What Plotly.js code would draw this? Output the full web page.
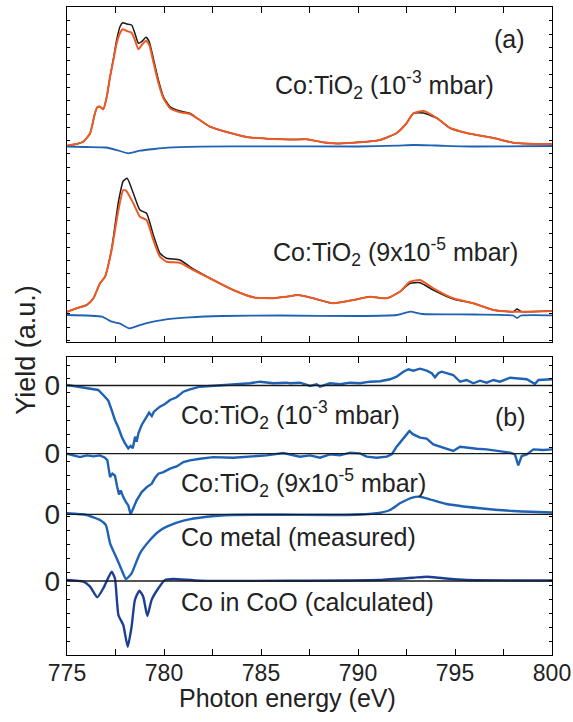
<!DOCTYPE html>
<html><head><meta charset="utf-8">
<script src="https://cdn.plot.ly/plotly-3.0.1.min.js"></script>
<style>html,body{margin:0;padding:0;background:#fff;}</style>
</head><body><div id="chart" style="width:573px;height:722px;"></div>
<script>
// ---------- Panel (a): XAS spectra (arbitrary units) ----------
const eA1 = [775,775.5,775.84,776.19,776.44,776.56,776.7,776.87,777.05,777.22,777.39,777.56,777.73,777.87,778.08,778.33,778.5,778.68,778.85,779.07,779.24,779.45,779.71,779.97,780.31,780.82,781.34,781.69,782.37,783.23,784.26,785.63,786.5,787.36,788.04,788.7,789.74,791.13,791.99,792.51,792.85,793.37,794.06,794.74,795.6,796.98,798.0,799.38,800];
const orangeA1 = [196.3,198,200.3,208.7,228.7,234.7,235.3,232.7,245.3,265.3,282,298.7,308.7,312.7,311,309.3,302,292.7,297,301.3,297,280.3,259.3,243.7,233.7,229.7,228,224,215.3,210,205,203,202.5,202.7,200.3,198.7,199.3,202,209,219,228.7,231,224,214,209,204,199.3,198,198];
const blackA1  = [196.3,198,200.3,208.7,228.7,234.7,235.3,232.7,245.3,265.3,283,302,315.3,319.3,318,317,308.7,298.7,300.3,304.7,300.3,283.7,262,245.3,235.3,231,228.7,224,215.3,210,205,203,202.5,202.7,200.3,198.7,199.3,202,209,219,228.7,229,224,214,209,204,199.3,198,198];
const eBlueA1 = [775,776,777,777.56,778.16,778.76,779.5,780.2,781.9,785,790,792,792.85,794,796,800];
const blueA1  = [195.3,195,194.5,192,188.7,191.3,193,194.3,195.3,195.7,195.5,196.3,197,196.5,195.5,196];

const eOrangeA2 = [775,775.5,776.01,776.36,776.7,776.96,777.3,777.65,777.9,778.05,778.42,778.76,779.1,779.45,779.79,780.14,780.82,781.51,782.54,783.57,784.6,785.63,786.32,786.92,787.7,788.73,789.76,790.62,791.48,792.16,792.68,793.2,793.88,794.91,795.94,796.98,798.0,800];
const orangeA2 = [30.3,33.7,37,43.7,58.7,65.3,92,132,152,151.3,138.7,125.3,122,102,85.3,80.3,79.3,72,62,52,44.7,43.7,45.3,47,43.7,38.7,42,45.3,43.7,50.3,60.3,62,53.7,43.7,38.7,32,30.3,31];
const eBlackA2 = [775,775.5,776.01,776.36,776.7,776.96,777.3,777.65,777.9,778.1,778.42,778.76,779.1,779.45,779.79,780.14,780.82,781.51,782.54,783.57,784.6,785.63,786.32,786.92,787.7,788.73,789.76,790.62,791.48,792.16,792.68,793.2,793.88,794.91,795.94,796.98,798.0,798.2,798.4,800];
const blackA2 = [30.3,33.7,37,43.7,58.7,65.3,93,140,161,163.7,148.7,132,128.7,107,88.7,83.7,82,73,62,52,44.7,43.7,45.3,47,43.7,38.7,42,45.3,43.7,50.3,58.7,59.3,52,43,38.7,32,30.3,33,30.5,31];
const eBlueA2 = [775,776.8,777.3,777.7,778.2,778.76,779.45,780.1,781.3,783,786,790,792,792.7,793.3,796,798,798.2,798.4,800];
const blueA2  = [27,25.3,20.3,18.7,13.7,17,20.3,22.7,24.7,26,26.5,26,27,30.3,28,27.5,26.5,24,26.5,26.7];

// ---------- Panel (b): XMCD (offset curves, value relative to own zero) ----------
const offsetsB = [269.5, 201.3, 140.7, 74];
const zeroTickText = ['0','0','0','0'];

const eB1 = [775,775.5,776.02,776.36,776.61,776.87,777.13,777.3,777.47,777.64,777.82,777.99,778.16,778.28,778.39,778.51,778.59,778.68,778.85,779.11,779.23,779.37,779.48,779.79,780.05,780.31,780.65,781.0,781.34,781.86,782.72,783.57,784.43,784.95,785.63,786.32,786.49,787.01,787.53,787.87,788.04,788.56,789.07,789.59,790.1,790.62,791.13,791.65,791.99,792.34,792.6,792.85,793.2,793.54,793.8,793.97,794.14,794.31,794.57,794.91,795.17,795.26,795.6,795.94,796.29,796.63,796.98,797.32,797.84,798.18,798.7,799.12,799.3,800];
const b1 = [0.5,-1.2,-2.8,-3.8,-4.5,-9.5,-15.2,-24.5,-34.5,-41.8,-51.2,-57.8,-62.8,-60.5,-62.8,-51.2,-56.2,-47.8,-39.5,-31.2,-27.2,-30.5,-26.2,-21.2,-18.5,-14.5,-11.8,-6.2,-3.8,-1.2,-0.2,1.2,2.2,3.8,2.2,2.8,2.2,2.8,-0.5,1.2,-1.2,2.2,1.2,2.8,2.2,3.8,4.2,6.2,8.8,13.8,16.2,14.8,16.8,14.8,12.2,8.2,12.2,13.8,12.2,10.5,5.5,3.8,5.5,2.2,4.8,2.8,5.5,3.8,7.8,7.2,6.2,1.5,5.5,6.2];

const eB2 = [775,775.32,775.67,776.02,776.36,776.7,776.96,777.08,777.22,777.34,777.47,777.59,777.68,777.77,777.9,778.04,778.16,778.28,778.42,778.59,778.85,779.11,779.37,779.54,779.71,779.97,780.31,780.65,781.0,781.34,781.86,782.54,783.57,784.43,785.29,786.15,786.49,787.01,787.53,788.04,788.56,789.07,789.59,790.1,790.45,790.96,791.48,791.74,791.99,792.25,792.51,792.65,792.85,793.2,793.54,793.88,794.23,794.57,794.91,795.26,795.6,796.12,796.63,797.15,797.84,798.09,798.26,798.44,798.7,799.04,799.55,800];
const b2 = [0,-1.7,-3.4,-1.7,-2.7,-1.7,-4,-6.7,-23.4,-20,-21.7,-33.4,-40.7,-36.7,-43.4,-48.4,-51.7,-60.7,-55,-46.7,-38.4,-33.4,-30,-24,-20,-18.4,-15,-12.7,-8.4,-6.7,-5,-3.4,-4,-2.7,-1.7,0.6,-0.7,-3,-1.7,-4,-0.7,-1.7,1,0.3,-3,-4,-3,-0.7,7,12.7,19.3,22.7,19.3,16,15,9.3,7,4.3,2.7,7,6,5,4.3,2.7,1,-0.7,-11.7,-2.3,-0.7,4.3,3.7,4.3];

const eB3 = [775,776.0,776.7,777.0,777.22,777.56,777.82,778.04,778.33,778.76,779.28,779.71,780.14,781.0,782.2,783.57,786,789.42,790.96,791.65,792.16,792.85,793.2,793.7,794.57,796.3,798,800];
const b3 = [1,-0.7,-5.7,-10.7,-29,-44,-55.7,-64.7,-59,-39,-25.7,-17.4,-12.4,-6.4,-2.4,-0.7,-0.5,-0.7,1,4.3,11,17,17.6,15,10.3,6,3.3,1.8];

const eB4 = [775,775.85,776.19,776.56,776.87,777.3,777.47,777.65,777.9,778.13,778.33,778.5,778.73,778.93,779.14,779.36,779.71,780.05,780.48,781.86,791.1,792.85,793.54,794.4,795.6,800];
const b4 = [1,-0.7,-5.7,-16.3,-7.3,9.3,2.7,-34,-44,-65.7,-45.7,-19,-9.7,-15.7,-35,-19,-7.3,1,2,0.3,1,3.3,4.3,2.7,1,0.5];

const xTickVals = [775,777.5,780,782.5,785,787.5,790,792.5,795,797.5,800];
const xTickText = ['775','','780','','785','','790','','795','','800'];

// ---------- styling ----------
const FONT = 'Liberation Sans, Arial, Helvetica, sans-serif';
const BLACK = '#1a1a1a', ORANGE = '#ee5a24', BLUE = '#1f62b3', DBLUE = '#1d3f93';

const traces = [];
function line(x, y, color, width, xa, ya, shape) {
  traces.push({x: x, y: y, type: 'scatter', mode: 'lines', xaxis: xa, yaxis: ya,
    line: {color: color, width: width, shape: shape || 'spline', smoothing: 0.5}, hoverinfo: 'skip'});
}
// panel (a)
line(eA1, blackA1, BLACK, 1.5, 'x2', 'y2');
line(eA1, orangeA1, ORANGE, 2, 'x2', 'y2');
line(eBlueA1, blueA1, BLUE, 1.8, 'x2', 'y2');
line(eBlackA2, blackA2, BLACK, 1.5, 'x2', 'y2');
line(eOrangeA2, orangeA2, ORANGE, 2, 'x2', 'y2');
line(eBlueA2, blueA2, BLUE, 1.8, 'x2', 'y2');
// panel (b)
const bE = [eB1, eB2, eB3, eB4], bV = [b1, b2, b3, b4];
const bCol = [BLUE, BLUE, BLUE, DBLUE];
const bShape = ['linear', 'linear', 'spline', 'spline'];
for (let i = 0; i < 4; i++) {
  line(bE[i], bV[i].map(v => v + offsetsB[i]), bCol[i], 2.4, 'x', 'y', bShape[i]);
}
for (let i = 0; i < 4; i++) {
  line([xTickVals[0], xTickVals[xTickVals.length - 1]], [offsetsB[i], offsetsB[i]], BLACK, 1.3, 'x', 'y', 'linear');
}

const axBase = {showline: true, linecolor: '#000', linewidth: 1.3, mirror: 'ticks', showgrid: false, zeroline: false,
  ticks: 'inside', tickcolor: '#000', tickwidth: 1};

const ann = [];
function txt(text, x, y, xa, ya, size) {
  ann.push({text: text, x: x, y: y, xref: xa, yref: ya, xanchor: 'left', yanchor: 'middle',
    showarrow: false, font: {family: FONT, size: size || 25, color: '#222'}});
}
txt('(a)', 796.9, 303, 'x2', 'y2');
txt('Co:TiO<sub>2</sub> (10<sup>-3</sup> mbar)', 785.6, 257, 'x2', 'y2');
txt('Co:TiO<sub>2</sub> (9x10<sup>-5</sup> mbar)', 785.5, 90, 'x2', 'y2');
txt('Co:TiO<sub>2</sub> (10<sup>-3</sup> mbar)', 780.75, 240, 'x', 'y');
txt('(b)', 796.95, 238, 'x', 'y');
txt('Co:TiO<sub>2</sub> (9x10<sup>-5</sup> mbar)', 780.75, 172, 'x', 'y');
txt('Co metal (measured)', 780.75, 118, 'x', 'y');
txt('Co in CoO (calculated)', 780.75, 53, 'x', 'y');
ann.push({text: 'Yield (a.u.)', xref: 'paper', yref: 'paper', x: -0.085, y: 0.4707, xanchor: 'center', yanchor: 'middle',
  textangle: -90, showarrow: false, font: {family: FONT, size: 27, color: '#222'}});
ann.push({text: 'Photon energy (eV)', xref: 'paper', yref: 'paper', x: 0.455, y: -0.066, xanchor: 'center', yanchor: 'middle',
  showarrow: false, font: {family: FONT, size: 25, color: '#222'}});

const layout = {
  width: 573, height: 722, margin: {l: 67, r: 21, t: 7, b: 67},
  paper_bgcolor: '#fff', plot_bgcolor: '#fff', showlegend: false,
  font: {family: FONT, color: '#222'},
  xaxis: Object.assign({}, axBase, {range: [775, 800], anchor: 'y', tickmode: 'array', tickvals: xTickVals, ticktext: xTickText,
    ticklen: 6, ticklabelstandoff: -3, tickfont: {size: 23, family: FONT, color: '#222'}}),
  xaxis2: Object.assign({}, axBase, {range: [775, 800], anchor: 'y2', tickmode: 'array', tickvals: xTickVals, ticktext: xTickText,
    ticklen: 6, showticklabels: false, matches: 'x'}),
  yaxis: Object.assign({}, axBase, {domain: [0, 0.4599], range: [0, 298], anchor: 'x', tickmode: 'array',
    tickvals: offsetsB, ticktext: zeroTickText, ticklen: 3, tickfont: {size: 28, family: FONT, color: '#222'},
    minor: {tick0: 0, dtick: 13.8, ticks: 'inside', ticklen: 3, tickcolor: '#000', showgrid: false}}),
  yaxis2: Object.assign({}, axBase, {domain: [0.483, 1], range: [0, 335], anchor: 'x2', tickmode: 'linear', tick0: 1.4, dtick: 13.33,
    ticklen: 3, showticklabels: false}),
  annotations: ann
};
Plotly.newPlot('chart', traces, layout, {staticPlot: true, displayModeBar: false});
</script></body></html>
